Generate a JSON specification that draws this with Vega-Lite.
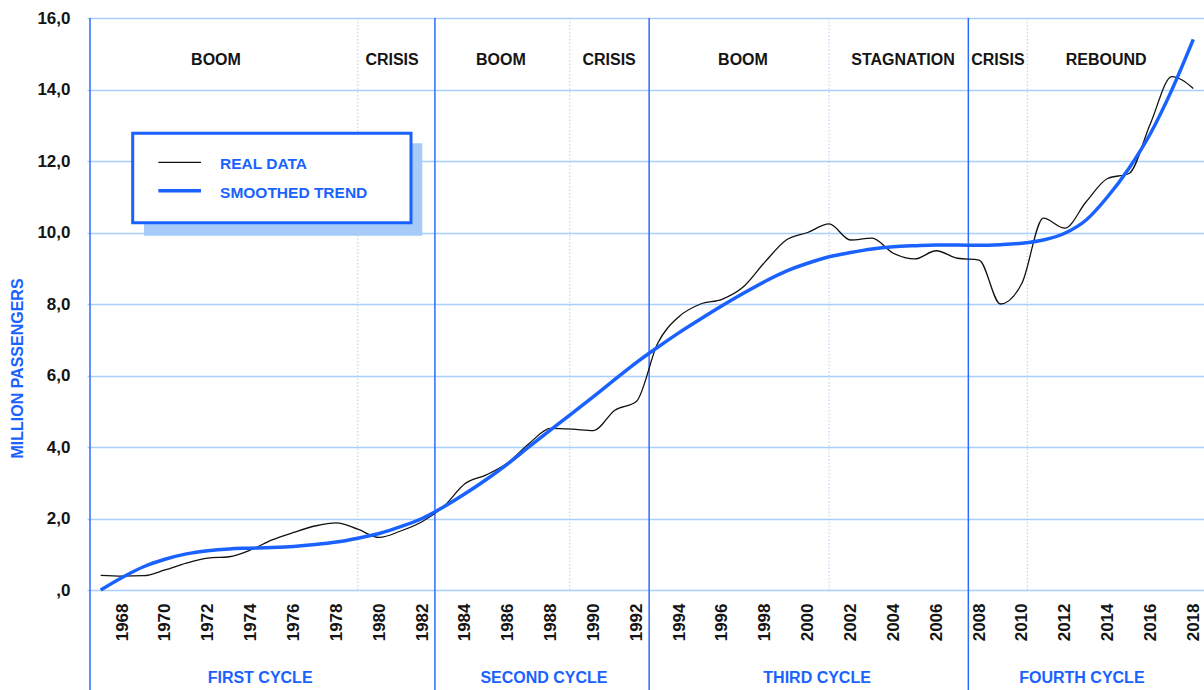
{
  "$schema": "https://vega.github.io/schema/vega-lite/v6.json",
  "width": 1114,
  "height": 572,
  "autosize": {"type": "none"},
  "padding": {"left": 90, "top": 18, "right": 0, "bottom": 100},
  "background": "white",
  "config": {
    "font": "Liberation Sans",
    "view": {"stroke": null},
    "axisY": {
      "grid": true,
      "gridColor": "#a9cffd",
      "gridWidth": 1.5,
      "domain": false,
      "ticks": true,
      "tickColor": "#a9cffd",
      "tickSize": 3,
      "tickWidth": 1.5,
      "labelFont": "Liberation Sans",
      "labelFontWeight": "bold",
      "labelFontSize": 17,
      "labelColor": "#141414",
      "labelPadding": 17
    },
    "axisX": {
      "grid": false,
      "domain": false,
      "ticks": false,
      "labelFont": "Liberation Sans",
      "labelFontWeight": "bold",
      "labelFontSize": 17,
      "labelColor": "#141414",
      "labelAngle": 270,
      "labelPadding": 13,
      "labelOverlap": false
    }
  },
  "datasets": {
    "series": [
      {"year": 1967, "value": 0.41, "series": "REAL DATA"},
      {"year": 1968, "value": 0.39, "series": "REAL DATA"},
      {"year": 1969, "value": 0.40, "series": "REAL DATA"},
      {"year": 1970, "value": 0.56, "series": "REAL DATA"},
      {"year": 1971, "value": 0.75, "series": "REAL DATA"},
      {"year": 1972, "value": 0.89, "series": "REAL DATA"},
      {"year": 1973, "value": 0.93, "series": "REAL DATA"},
      {"year": 1974, "value": 1.12, "series": "REAL DATA"},
      {"year": 1975, "value": 1.40, "series": "REAL DATA"},
      {"year": 1976, "value": 1.61, "series": "REAL DATA"},
      {"year": 1977, "value": 1.79, "series": "REAL DATA"},
      {"year": 1978, "value": 1.88, "series": "REAL DATA"},
      {"year": 1979, "value": 1.70, "series": "REAL DATA"},
      {"year": 1980, "value": 1.47, "series": "REAL DATA"},
      {"year": 1981, "value": 1.65, "series": "REAL DATA"},
      {"year": 1982, "value": 1.91, "series": "REAL DATA"},
      {"year": 1983, "value": 2.33, "series": "REAL DATA"},
      {"year": 1984, "value": 2.97, "series": "REAL DATA"},
      {"year": 1985, "value": 3.22, "series": "REAL DATA"},
      {"year": 1986, "value": 3.56, "series": "REAL DATA"},
      {"year": 1987, "value": 4.10, "series": "REAL DATA"},
      {"year": 1988, "value": 4.52, "series": "REAL DATA"},
      {"year": 1989, "value": 4.50, "series": "REAL DATA"},
      {"year": 1990, "value": 4.46, "series": "REAL DATA"},
      {"year": 1991, "value": 5.03, "series": "REAL DATA"},
      {"year": 1992, "value": 5.27, "series": "REAL DATA"},
      {"year": 1993, "value": 6.90, "series": "REAL DATA"},
      {"year": 1994, "value": 7.65, "series": "REAL DATA"},
      {"year": 1995, "value": 8.00, "series": "REAL DATA"},
      {"year": 1996, "value": 8.13, "series": "REAL DATA"},
      {"year": 1997, "value": 8.48, "series": "REAL DATA"},
      {"year": 1998, "value": 9.17, "series": "REAL DATA"},
      {"year": 1999, "value": 9.79, "series": "REAL DATA"},
      {"year": 2000, "value": 10.0, "series": "REAL DATA"},
      {"year": 2001, "value": 10.24, "series": "REAL DATA"},
      {"year": 2002, "value": 9.79, "series": "REAL DATA"},
      {"year": 2003, "value": 9.84, "series": "REAL DATA"},
      {"year": 2004, "value": 9.42, "series": "REAL DATA"},
      {"year": 2005, "value": 9.26, "series": "REAL DATA"},
      {"year": 2006, "value": 9.49, "series": "REAL DATA"},
      {"year": 2007, "value": 9.28, "series": "REAL DATA"},
      {"year": 2008, "value": 9.23, "series": "REAL DATA"},
      {"year": 2009, "value": 8.0, "series": "REAL DATA"},
      {"year": 2010, "value": 8.58, "series": "REAL DATA"},
      {"year": 2011, "value": 10.40, "series": "REAL DATA"},
      {"year": 2012, "value": 10.12, "series": "REAL DATA"},
      {"year": 2013, "value": 10.86, "series": "REAL DATA"},
      {"year": 2014, "value": 11.51, "series": "REAL DATA"},
      {"year": 2015, "value": 11.65, "series": "REAL DATA"},
      {"year": 2016, "value": 13.05, "series": "REAL DATA"},
      {"year": 2017, "value": 14.36, "series": "REAL DATA"},
      {"year": 2018, "value": 14.03, "series": "REAL DATA"},
      {"year": 1967, "value": 0.0, "series": "SMOOTHED TREND"},
      {"year": 1968, "value": 0.35, "series": "SMOOTHED TREND"},
      {"year": 1969, "value": 0.65, "series": "SMOOTHED TREND"},
      {"year": 1970, "value": 0.86, "series": "SMOOTHED TREND"},
      {"year": 1971, "value": 1.01, "series": "SMOOTHED TREND"},
      {"year": 1972, "value": 1.10, "series": "SMOOTHED TREND"},
      {"year": 1973, "value": 1.15, "series": "SMOOTHED TREND"},
      {"year": 1974, "value": 1.17, "series": "SMOOTHED TREND"},
      {"year": 1975, "value": 1.19, "series": "SMOOTHED TREND"},
      {"year": 1976, "value": 1.22, "series": "SMOOTHED TREND"},
      {"year": 1977, "value": 1.27, "series": "SMOOTHED TREND"},
      {"year": 1978, "value": 1.34, "series": "SMOOTHED TREND"},
      {"year": 1979, "value": 1.45, "series": "SMOOTHED TREND"},
      {"year": 1980, "value": 1.58, "series": "SMOOTHED TREND"},
      {"year": 1981, "value": 1.77, "series": "SMOOTHED TREND"},
      {"year": 1982, "value": 2.0, "series": "SMOOTHED TREND"},
      {"year": 1983, "value": 2.32, "series": "SMOOTHED TREND"},
      {"year": 1984, "value": 2.69, "series": "SMOOTHED TREND"},
      {"year": 1985, "value": 3.09, "series": "SMOOTHED TREND"},
      {"year": 1986, "value": 3.53, "series": "SMOOTHED TREND"},
      {"year": 1987, "value": 4.01, "series": "SMOOTHED TREND"},
      {"year": 1988, "value": 4.48, "series": "SMOOTHED TREND"},
      {"year": 1989, "value": 4.94, "series": "SMOOTHED TREND"},
      {"year": 1990, "value": 5.41, "series": "SMOOTHED TREND"},
      {"year": 1991, "value": 5.89, "series": "SMOOTHED TREND"},
      {"year": 1992, "value": 6.36, "series": "SMOOTHED TREND"},
      {"year": 1993, "value": 6.79, "series": "SMOOTHED TREND"},
      {"year": 1994, "value": 7.20, "series": "SMOOTHED TREND"},
      {"year": 1995, "value": 7.58, "series": "SMOOTHED TREND"},
      {"year": 1996, "value": 7.95, "series": "SMOOTHED TREND"},
      {"year": 1997, "value": 8.30, "series": "SMOOTHED TREND"},
      {"year": 1998, "value": 8.63, "series": "SMOOTHED TREND"},
      {"year": 1999, "value": 8.92, "series": "SMOOTHED TREND"},
      {"year": 2000, "value": 9.14, "series": "SMOOTHED TREND"},
      {"year": 2001, "value": 9.32, "series": "SMOOTHED TREND"},
      {"year": 2002, "value": 9.44, "series": "SMOOTHED TREND"},
      {"year": 2003, "value": 9.54, "series": "SMOOTHED TREND"},
      {"year": 2004, "value": 9.60, "series": "SMOOTHED TREND"},
      {"year": 2005, "value": 9.63, "series": "SMOOTHED TREND"},
      {"year": 2006, "value": 9.65, "series": "SMOOTHED TREND"},
      {"year": 2007, "value": 9.65, "series": "SMOOTHED TREND"},
      {"year": 2008, "value": 9.64, "series": "SMOOTHED TREND"},
      {"year": 2009, "value": 9.66, "series": "SMOOTHED TREND"},
      {"year": 2010, "value": 9.70, "series": "SMOOTHED TREND"},
      {"year": 2011, "value": 9.79, "series": "SMOOTHED TREND"},
      {"year": 2012, "value": 9.98, "series": "SMOOTHED TREND"},
      {"year": 2013, "value": 10.35, "series": "SMOOTHED TREND"},
      {"year": 2014, "value": 11.0, "series": "SMOOTHED TREND"},
      {"year": 2015, "value": 11.80, "series": "SMOOTHED TREND"},
      {"year": 2016, "value": 12.77, "series": "SMOOTHED TREND"},
      {"year": 2017, "value": 13.99, "series": "SMOOTHED TREND"},
      {"year": 2018, "value": 15.4, "series": "SMOOTHED TREND"}
    ],
    "phases": [
      {"label": "BOOM", "year": 1972.38},
      {"label": "CRISIS", "year": 1980.6},
      {"label": "BOOM", "year": 1985.68},
      {"label": "CRISIS", "year": 1990.73},
      {"label": "BOOM", "year": 1996.98},
      {"label": "STAGNATION", "year": 2004.45},
      {"label": "CRISIS", "year": 2008.88},
      {"label": "REBOUND", "year": 2013.93}
    ],
    "phaseBreaks": [
      {"year": 1979.0},
      {"year": 1988.9},
      {"year": 2001.0},
      {"year": 2010.25}
    ],
    "cycleBreaks": [
      {"year": 1966.5},
      {"year": 1982.6},
      {"year": 1992.6},
      {"year": 2007.5}
    ],
    "cycles": [
      {"label": "FIRST CYCLE", "year": 1974.44},
      {"label": "SECOND CYCLE", "year": 1987.69},
      {"label": "THIRD CYCLE", "year": 2000.44},
      {"label": "FOURTH CYCLE", "year": 2012.8}
    ],
    "legendBox": [{"entry": "box"}]
  },
  "layer": [
    {
      "data": {"name": "series"},
      "mark": {"type": "line", "interpolate": "monotone", "opacity": 0},
      "encoding": {
        "x": {
          "field": "year",
          "type": "quantitative",
          "scale": {"domain": [1966.5, 2018.5], "nice": false, "zero": false},
          "axis": {
            "title": null,
            "values": [1968, 1970, 1972, 1974, 1976, 1978, 1980, 1982, 1984, 1986, 1988, 1990, 1992, 1994, 1996, 1998, 2000, 2002, 2004, 2006, 2008, 2010, 2012, 2014, 2016, 2018],
            "format": "d"
          }
        },
        "y": {
          "field": "value",
          "type": "quantitative",
          "scale": {"domain": [0, 16], "nice": false, "zero": false},
          "axis": {
            "title": "MILLION PASSENGERS",
            "values": [0, 2, 4, 6, 8, 10, 12, 14, 16],
            "labelExpr": "datum.value == 0 ? ',0' : replace(format(datum.value, '.1f'), '.', ',')",
            "titleColor": "#1a62ff",
            "titleFont": "Liberation Sans",
            "titleFontSize": 16,
            "titleFontWeight": "bold",
            "titleAngle": 270,
            "titleAlign": "center",
            "titleBaseline": "middle",
            "titleX": -73,
            "titleY": 350
          }
        },
        "detail": {"field": "series"}
      }
    },
    {
      "data": {"name": "phaseBreaks"},
      "mark": {"type": "rule", "color": "#a9cffd", "strokeWidth": 1, "strokeDash": [1.5, 2]},
      "encoding": {
        "x": {"field": "year", "type": "quantitative"}
      }
    },
    {
      "data": {"name": "cycleBreaks"},
      "mark": {"type": "rule", "color": "#2a6cff", "strokeWidth": 1.5},
      "encoding": {
        "x": {"field": "year", "type": "quantitative"},
        "y": {"datum": 16, "type": "quantitative"},
        "y2": {"datum": -2.8}
      }
    },
    {
      "data": {"name": "legendBox"},
      "mark": {"type": "rect", "color": "#a6cbf8"},
      "encoding": {
        "x": {"datum": 1969.02, "type": "quantitative"},
        "x2": {"datum": 1982.01},
        "y": {"datum": 12.495, "type": "quantitative"},
        "y2": {"datum": 9.91}
      }
    },
    {
      "data": {"name": "legendBox"},
      "mark": {"type": "rect", "fill": "white", "stroke": "#1a62ff", "strokeWidth": 3},
      "encoding": {
        "x": {"datum": 1968.493, "type": "quantitative"},
        "x2": {"datum": 1981.484},
        "y": {"datum": 12.775, "type": "quantitative"},
        "y2": {"datum": 10.271}
      }
    },
    {
      "data": {"name": "legendBox"},
      "mark": {"type": "rule", "color": "#111111", "strokeWidth": 1.3},
      "encoding": {
        "x": {"datum": 1969.69, "type": "quantitative"},
        "x2": {"datum": 1971.68},
        "y": {"datum": 11.964, "type": "quantitative"}
      }
    },
    {
      "data": {"name": "legendBox"},
      "mark": {"type": "rule", "color": "#1a62ff", "strokeWidth": 3.5},
      "encoding": {
        "x": {"datum": 1969.69, "type": "quantitative"},
        "x2": {"datum": 1971.68},
        "y": {"datum": 11.169, "type": "quantitative"}
      }
    },
    {
      "data": {"name": "legendBox"},
      "mark": {"type": "text", "align": "left", "baseline": "middle", "color": "#1a62ff", "fontSize": 15.5, "fontWeight": "bold", "font": "Liberation Sans"},
      "encoding": {
        "x": {"datum": 1972.57, "type": "quantitative"},
        "y": {"datum": 11.91, "type": "quantitative"},
        "text": {"value": "REAL DATA"}
      }
    },
    {
      "data": {"name": "legendBox"},
      "mark": {"type": "text", "align": "left", "baseline": "middle", "color": "#1a62ff", "fontSize": 15.5, "fontWeight": "bold", "font": "Liberation Sans"},
      "encoding": {
        "x": {"datum": 1972.57, "type": "quantitative"},
        "y": {"datum": 11.10, "type": "quantitative"},
        "text": {"value": "SMOOTHED TREND"}
      }
    },
    {
      "data": {"name": "phases"},
      "mark": {"type": "text", "align": "center", "baseline": "middle", "color": "#141414", "fontSize": 16, "fontWeight": "bold", "font": "Liberation Sans"},
      "encoding": {
        "x": {"field": "year", "type": "quantitative"},
        "y": {"datum": 14.83, "type": "quantitative"},
        "text": {"field": "label"}
      }
    },
    {
      "data": {"name": "cycles"},
      "mark": {"type": "text", "align": "center", "baseline": "middle", "color": "#1a62ff", "fontSize": 16, "fontWeight": "bold", "font": "Liberation Sans"},
      "encoding": {
        "x": {"field": "year", "type": "quantitative"},
        "y": {"datum": -2.46, "type": "quantitative"},
        "text": {"field": "label"}
      }
    },
    {
      "data": {"name": "series"},
      "mark": {"type": "line", "interpolate": "monotone"},
      "encoding": {
        "x": {"field": "year", "type": "quantitative"},
        "y": {"field": "value", "type": "quantitative"},
        "detail": {"field": "series"},
        "color": {
          "field": "series",
          "type": "nominal",
          "scale": {"domain": ["REAL DATA", "SMOOTHED TREND"], "range": ["#111111", "#1a62ff"]},
          "legend": null
        },
        "strokeWidth": {
          "field": "series",
          "type": "nominal",
          "scale": {"domain": ["REAL DATA", "SMOOTHED TREND"], "range": [1.3, 3.5]},
          "legend": null
        }
      }
    }
  ]
}
